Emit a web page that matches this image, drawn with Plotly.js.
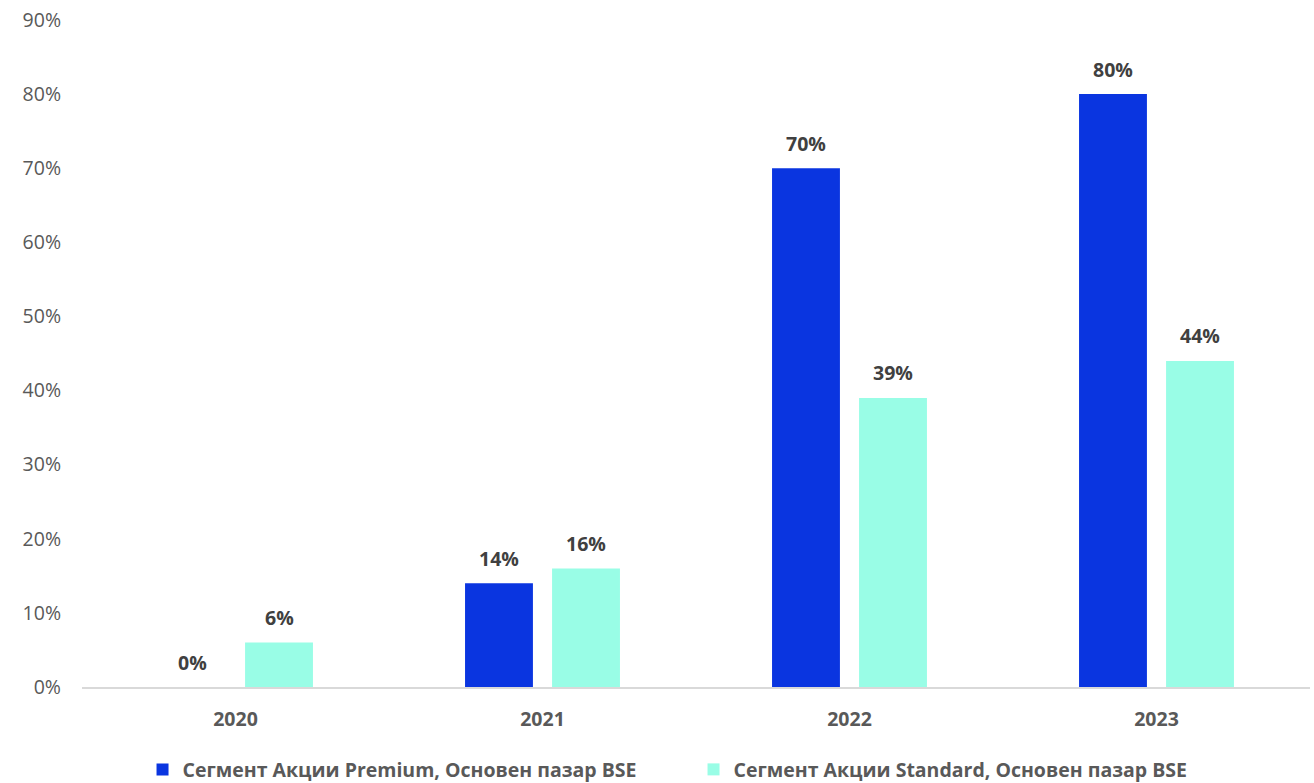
<!DOCTYPE html>
<html>
<head>
<meta charset="utf-8">
<script src="https://cdn.plot.ly/plotly-3.0.1.min.js"></script>
<style>html,body{margin:0;padding:0;background:#fff;}#chart{width:1314px;height:783px;}</style>
</head>
<body>
<div id="chart"></div>
<script>
const years = ['2020', '2021', '2022', '2023'];
const premiumName = 'Сегмент Акции Premium, Основен пазар BSE';
const standardName = 'Сегмент Акции Standard, Основен пазар BSE';
const premiumValues = [0, 14, 70, 80];
const standardValues = [6, 16, 39, 44];
const yTickValues = [0, 10, 20, 30, 40, 50, 60, 70, 80, 90];
const yTickLabels = ['0%', '10%', '20%', '30%', '40%', '50%', '60%', '70%', '80%', '90%'];

const FS = 19.5;
const labelFont = {family: 'Open Sans, sans-serif', size: FS, color: '#404040', weight: 'bold'};

const traces = [
  {type: 'bar', name: premiumName, x: years, y: premiumValues,
   marker: {color: '#0a35e0'}, hoverinfo: 'none'},
  {type: 'bar', name: standardName, x: years, y: standardValues,
   marker: {color: '#99fde6'}, hoverinfo: 'none'}
];

const annotations = [];
[[premiumValues, -43.5], [standardValues, 43.5]].forEach(([vals, shift]) => {
  vals.forEach((v, i) => {
    annotations.push({
      x: i, y: v, xref: 'x', yref: 'y', text: '<b>' + v + '%</b>',
      showarrow: false, xanchor: 'center', yanchor: 'middle',
      xshift: shift, yshift: 25, font: labelFont
    });
  });
});

const layout = {
  width: 1314, height: 783,
  margin: {l: 82, r: 4, t: 20, b: 96, autoexpand: false},
  paper_bgcolor: '#ffffff', plot_bgcolor: '#ffffff',
  barmode: 'group', bargap: 0.433, bargroupgap: 0.22,
  font: {family: 'Open Sans, sans-serif', color: '#595959'},
  xaxis: {
    type: 'category', categoryorder: 'array', categoryarray: years,
    showgrid: false, zeroline: false,
    showline: true, linecolor: '#d9d9d9', linewidth: 1.5,
    ticks: '', tickfont: {size: FS, color: '#595959', weight: 'bold'},
    ticklabelstandoff: 14
  },
  yaxis: {
    range: [0, 90], tickvals: yTickValues, ticktext: yTickLabels,
    showgrid: false, zeroline: false, showline: false, ticks: '',
    tickfont: {size: FS, color: '#595959'}, ticklabelstandoff: 20
  },
  annotations: annotations,
  showlegend: true,
  legend: {orientation: 'h', xref: 'container', x: 0.5278, xanchor: 'center',
           y: -0.124, yanchor: 'middle', entrywidth: 506,
           font: {size: FS, color: '#595959', weight: 'bold'}}
};

Plotly.newPlot('chart', traces, layout, {displayModeBar: false, staticPlot: true});
</script>
</body>
</html>
